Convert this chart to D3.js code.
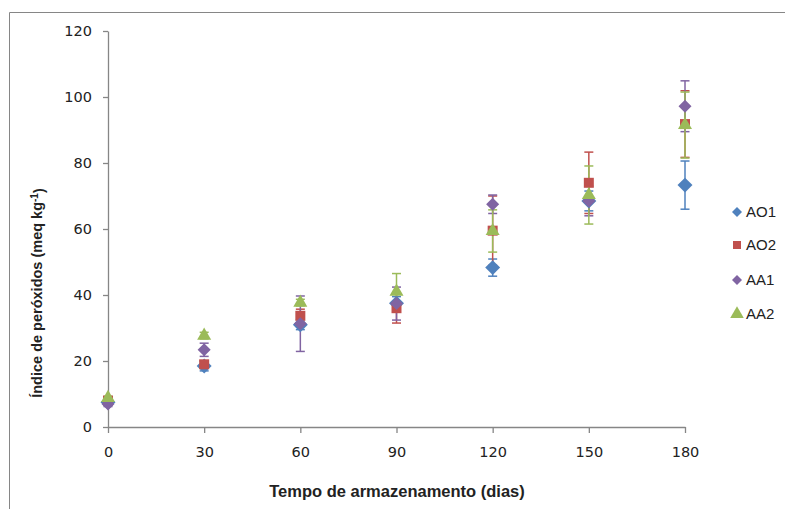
<!DOCTYPE html>
<html><head><meta charset="utf-8">
<script src="https://cdnjs.cloudflare.com/ajax/libs/d3/7.8.5/d3.min.js"></script>
<style>body{margin:0;background:#fff}svg{display:block}</style>
</head><body><svg id="c" width="785" height="509"></svg>
<script>
const days = [0, 30, 60, 90, 120, 150, 180];
const seriesNames = ["AO1", "AO2", "AA1", "AA2"];
const AO1 = [7.5, 18.5, 31, 37.5, 48.3, 68.5, 73.3];
const AO1err = [0.8, 1.5, 1.5, 2, 2.6, 3, 7.3];
const AO2 = [8, 19, 33.7, 36, 59.5, 74, 91.8];
const AO2err = [0.5, 1, 2, 4.5, 10.5, 9.3, 10.1];
const AA1 = [7, 23.4, 31.3, 37.4, 67.5, 68.5, 97.2];
const AA1err = [0.8, 2, 8.4, 5, 2.8, 4.5, 7.7];
const AA2 = [8.8, 27.7, 37.7, 41, 59.4, 70.3, 91.5];
const AA2err = [0.5, 1, 1, 5.5, 6.4, 8.8, 10];
const xTicks = [0, 30, 60, 90, 120, 150, 180];
const yTicks = [0, 20, 40, 60, 80, 100, 120];
const xTitle = "Tempo de armazenamento (dias)";

const colors = ["#4F81BD", "#C0504D", "#8064A2", "#9BBB59"];
const symbols = [d3.symbolSquare, d3.symbolSquare, d3.symbolSquare, d3.symbolTriangle];
const rotations = [45, 0, 45, 0];
const sizes = [112, 100, 85, 85];
const series = [
  {name: "AO1", v: AO1, e: AO1err},
  {name: "AO2", v: AO2, e: AO2err},
  {name: "AA1", v: AA1, e: AA1err},
  {name: "AA2", v: AA2, e: AA2err}
];

const svg = d3.select("#c");
const axisCol = "#868686";
svg.append("path").attr("d", "M9.5,509 L9.5,12.5 L785,12.5").attr("fill", "none").attr("stroke", axisCol).attr("stroke-width", 1);

const x = d3.scaleLinear().domain([0, 180]).range([108, 685]);
const y = d3.scaleLinear().domain([0, 120]).range([427, 31]);

const tickFont = "'DejaVu Sans', Verdana, sans-serif";
const gx = svg.append("g").attr("transform", "translate(0,427)")
  .call(d3.axisBottom(x).tickValues(xTicks).tickSize(6).tickPadding(14).tickSizeOuter(0));
const gy = svg.append("g").attr("transform", "translate(108,0)")
  .call(d3.axisLeft(y).tickValues(yTicks).tickSize(5).tickPadding(11).tickSizeOuter(0));
[gx, gy].forEach(g => {
  g.selectAll("path,line").attr("stroke", axisCol).attr("stroke-width", 1.3);
  g.selectAll("text").attr("fill", "#222").style("font-family", tickFont).style("font-size", "14.5px");
});

// error bars
const eb = svg.append("g");
series.forEach((s, i) => {
  days.forEach((d, j) => {
    const cx = x(d), y1 = y(s.v[j] + s.e[j]), y2 = y(s.v[j] - s.e[j]);
    const g = eb.append("g").attr("stroke", colors[i]).attr("stroke-width", 1.5);
    g.append("line").attr("x1", cx).attr("x2", cx).attr("y1", y1).attr("y2", y2);
    g.append("line").attr("x1", cx - 4.5).attr("x2", cx + 4.5).attr("y1", y1).attr("y2", y1);
    g.append("line").attr("x1", cx - 4.5).attr("x2", cx + 4.5).attr("y1", y2).attr("y2", y2);
  });
});
// markers
series.forEach((s, i) => {
  svg.append("g").selectAll("path").data(days).join("path")
    .attr("transform", (d, j) => `translate(${x(d)},${y(s.v[j])}) rotate(${rotations[i]})`)
    .attr("d", d3.symbol().type(symbols[i]).size(sizes[i]))
    .attr("fill", colors[i]);
});

// legend
const leg = svg.append("g");
const legY = [212, 245, 280, 314];
const legSizes = [50, 64, 50, 80];
series.forEach((s, i) => {
  leg.append("path").attr("transform", `translate(737,${legY[i]}) rotate(${rotations[i]})`)
    .attr("d", d3.symbol().type(symbols[i]).size(legSizes[i])).attr("fill", colors[i]);
  leg.append("text").attr("x", 746).attr("y", legY[i]).attr("dy", "0.36em")
    .style("font-family", "'Liberation Sans', Arial, sans-serif").style("font-size", "15px")
    .attr("fill", "#222").text(s.name);
});

// axis titles
svg.append("text").attr("x", 397).attr("y", 497).attr("text-anchor", "middle")
  .style("font-family", "'Liberation Sans', Arial, sans-serif").style("font-size", "16.5px").style("font-weight", "bold")
  .attr("fill", "#222").text(xTitle);
const yt = svg.append("text").attr("transform", "translate(42,293) rotate(-90)").attr("text-anchor", "middle")
  .style("font-family", "'Liberation Sans', Arial, sans-serif").style("font-size", "14.5px").style("font-weight", "bold")
  .attr("fill", "#222");
yt.append("tspan").text("Índice de peróxidos (meq kg");
yt.append("tspan").attr("dy", "-0.45em").style("font-size", "10px").text("-1");
yt.append("tspan").attr("dy", "0.45em").text(")");
</script></body></html>
